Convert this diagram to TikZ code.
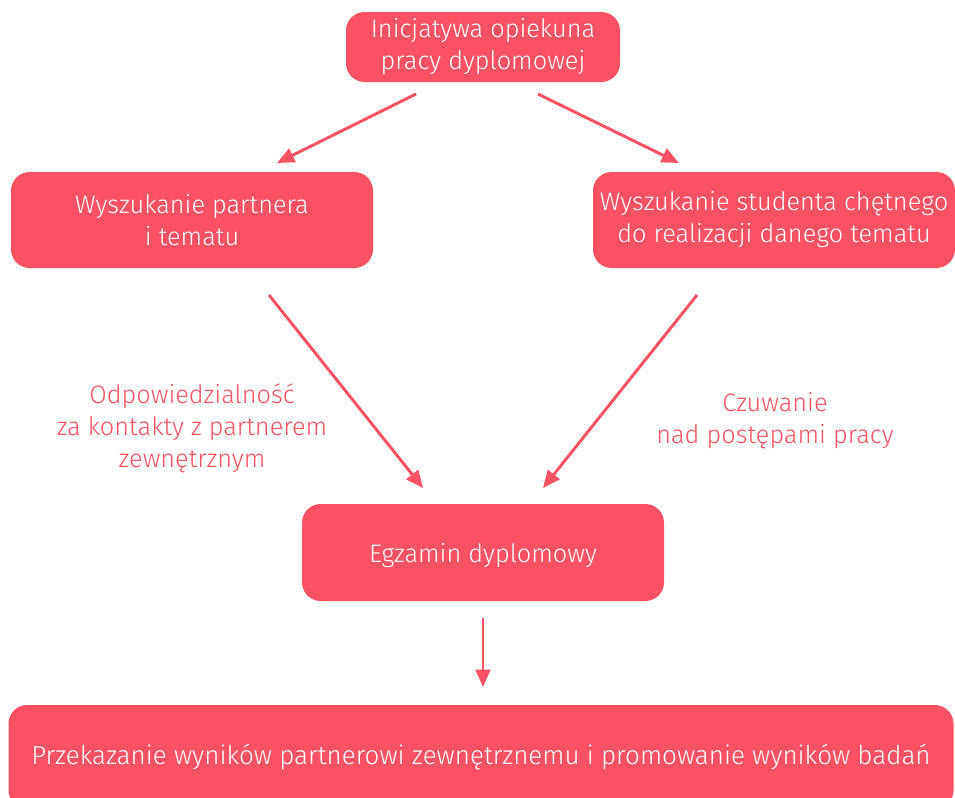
\documentclass[tikz,border=0pt]{standalone}
\usepackage{fontspec}
\setmainfont{Fira Sans Light}
\usetikzlibrary{arrows.meta}
\definecolor{pinkred}{RGB}{250,82,99}
\begin{document}
\begin{tikzpicture}[x=0.75pt,y=-0.75pt,
  box/.style={fill=pinkred,rounded corners=14pt,text=white,align=center,inner sep=0pt,
    font=\fontsize{19}{24}\selectfont},
  lbl/.style={text=pinkred,align=center,font=\fontsize{19}{24}\selectfont},
  conn/.style={draw=pinkred,line width=2.2pt,-{Triangle[length=13pt,width=11pt]}}]
\useasboundingbox (0,0) rectangle (955,797);
\clip (0,0) rectangle (955,797);
\node[box,minimum width=274*0.75pt,minimum height=70*0.75pt] (top) at (483,47) {Inicjatywa opiekuna\\pracy dyplomowej};
\node[box,minimum width=362*0.75pt,minimum height=96*0.75pt] (left) at (192,220) {Wyszukanie partnera\\i tematu};
\node[box,minimum width=362*0.75pt,minimum height=96*0.75pt] (right) at (774,220) {Wyszukanie studenta chętnego\\do realizacji danego tematu};
\node[box,minimum width=362*0.75pt,minimum height=97*0.75pt,text depth=0pt] (mid) at (483,552.5) {Egzamin dyplomowy};
\node[box,minimum width=945*0.75pt,minimum height=104*0.75pt,font=\fontsize{19.5}{24}\selectfont] (bot) at (481,757) {Przekazanie wyników partnerowi zewnętrznemu i promowanie wyników badań};
\node[lbl] (l1) at (192,428) {Odpowiedzialność\\za kontakty z partnerem\\zewnętrznym};
\node[lbl] (l2) at (775,421) {Czuwanie\\nad postępami pracy};
\coordinate (a1s) at (416,94);
\coordinate (a1e) at (277,163);
\coordinate (a2s) at (538,94);
\coordinate (a2e) at (679,163);
\coordinate (a3s) at (269,295);
\coordinate (a3e) at (423,488);
\coordinate (a4s) at (697,295);
\coordinate (a4e) at (543,488);
\coordinate (a5s) at (483,618);
\coordinate (a5e) at (483,687);
\draw[conn] (a1s) -- (a1e);
\draw[conn] (a2s) -- (a2e);
\draw[conn] (a3s) -- (a3e);
\draw[conn] (a4s) -- (a4e);
\draw[conn] (a5s) -- (a5e);
\end{tikzpicture}
\end{document}
